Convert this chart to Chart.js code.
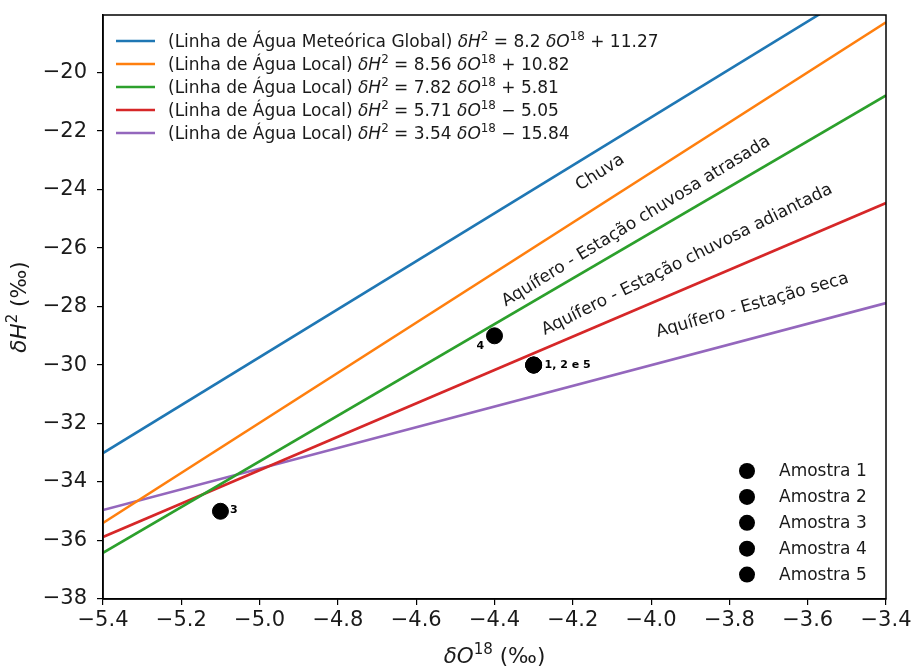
<!DOCTYPE html>
<html>
<head>
<meta charset="utf-8">
<script src="https://cdn.jsdelivr.net/npm/chart.js@4.4.1/dist/chart.umd.min.js"></script>
<style>
  html, body { margin: 0; padding: 0; background: #fff; }
  #wrap { width: 914px; height: 666px; position: relative; }
</style>
</head>
<body>
<div id="wrap"><canvas id="chart"></canvas></div>
<script>
const FONT = "'DejaVu Sans', sans-serif";

// water lines, values at the two ends of the x range
const lineX = [-5.4, -3.4];
const gmwlY = [-33.01, -16.61];
const rainY = [-35.40, -18.28];
const lateY = [-36.42, -20.78];
const earlyY = [-35.88, -24.46];
const dryY = [-34.96, -27.88];

const lineNames = [
  "(Linha de Água Meteórica Global)",
  "(Linha de Água Local)",
  "(Linha de Água Local)",
  "(Linha de Água Local)",
  "(Linha de Água Local)"
];
const slopes = ["8.2", "8.56", "7.82", "5.71", "3.54"];
const intercepts = ["+ 11.27", "+ 10.82", "+ 5.81", "− 5.05", "− 15.84"];
const lineColors = ["#1f77b4", "#ff7f0e", "#2ca02c", "#d62728", "#9467bd"];

// samples
const sampleNames = ["Amostra 1", "Amostra 2", "Amostra 3", "Amostra 4", "Amostra 5"];
const sampleX = [-4.3, -4.3, -5.1, -4.4, -4.3];
const sampleY = [-30, -30, -35, -29, -30];

// ticks
const xTicks = [-5.4, -5.2, -5.0, -4.8, -4.6, -4.4, -4.2, -4.0, -3.8, -3.6, -3.4];
const yTicks = [-38, -36, -34, -32, -30, -28, -26, -24, -22, -20];

// text along the lines (data position, angle in degrees)
const zoneLabels = ["Chuva", "Aquífero - Estação chuvosa atrasada", "Aquífero - Estação chuvosa adiantada", "Aquífero - Estação seca"];
const zoneX = [-4.13, -4.038, -3.908, -3.741];
const zoneY = [-23.42, -25.09, -26.40, -27.96];
const zoneAngle = [-32.3, -31.5, -26.3, -15.9];

// point tags
const tagText = ["1, 2 e 5", "4", "3"];
const tagX = [-4.272, -4.436, -5.066];
const tagY = [-30.0, -29.36, -34.97];

const lineSets = [gmwlY, rainY, lateY, earlyY, dryY].map((ys, i) => ({
  label: lineNames[i],
  data: lineX.map((x, j) => ({ x: x, y: ys[j] })),
  showLine: true,
  borderColor: lineColors[i],
  backgroundColor: lineColors[i],
  borderWidth: 2.6,
  pointRadius: 0
}));

const sampleSets = sampleNames.map((n, i) => ({
  label: n,
  data: [{ x: sampleX[i], y: sampleY[i] }],
  showLine: false,
  pointRadius: 8,
  pointBackgroundColor: "#000",
  pointBorderColor: "#000"
}));

function minus(s){ return String(s).replace("-", "\u2212"); }

function drawRich(ctx, segs, x, y, size){
  let cx = x;
  for(const s of segs){
    const fs = s.sup ? size * 0.7 : size;
    ctx.font = `${s.it ? "italic " : ""}${fs}px ${FONT}`;
    ctx.textBaseline = "alphabetic";
    ctx.fillText(s.t, cx, s.sup ? y - size * 0.42 : y);
    cx += ctx.measureText(s.t).width;
  }
  return cx - x;
}
function richWidth(ctx, segs, size){
  let w = 0;
  for(const s of segs){
    const fs = s.sup ? size * 0.7 : size;
    ctx.font = `${s.it ? "italic " : ""}${fs}px ${FONT}`;
    w += ctx.measureText(s.t).width;
  }
  return w;
}

const extras = {
  id: "extras",
  afterDatasetsDraw(chart){
    const ctx = chart.ctx;
    const xs = chart.scales.x, ys = chart.scales.y;
    const a = chart.chartArea;
    ctx.save();
    ctx.fillStyle = "#1a1a1a";

    // zone labels
    ctx.font = `17px ${FONT}`;
    ctx.textAlign = "center";
    ctx.textBaseline = "middle";
    zoneLabels.forEach((t, i) => {
      ctx.save();
      ctx.translate(xs.getPixelForValue(zoneX[i]), ys.getPixelForValue(zoneY[i]));
      ctx.rotate(zoneAngle[i] * Math.PI / 180);
      ctx.fillText(t, 0, 0);
      ctx.restore();
    });

    // point tags
    ctx.font = `bold 11px ${FONT}`;
    ctx.fillStyle = "#000";
    tagText.forEach((t, i) => {
      ctx.textAlign = i === 0 ? "left" : "center";
      ctx.fillText(t, xs.getPixelForValue(tagX[i]), ys.getPixelForValue(tagY[i]));
    });

    // frame
    ctx.strokeStyle = "#000";
    ctx.lineWidth = 1.5;
    ctx.strokeRect(a.left, a.top, a.right - a.left, a.bottom - a.top);

    // line legend
    ctx.fillStyle = "#1a1a1a";
    ctx.textAlign = "left";
    for(let i = 0; i < 5; i++){
      const yy = 41 + i * 23;
      ctx.strokeStyle = lineColors[i];
      ctx.lineWidth = 2.6;
      ctx.beginPath(); ctx.moveTo(116, yy); ctx.lineTo(155, yy); ctx.stroke();
      drawRich(ctx, [
        { t: lineNames[i] + " " },
        { t: "δH", it: true },
        { t: "2", sup: true },
        { t: " = " + slopes[i] + " " },
        { t: "δO", it: true },
        { t: "18", sup: true },
        { t: " " + intercepts[i] }
      ], 168, yy + 6, 17);
    }

    // sample legend
    ctx.font = `17px ${FONT}`;
    ctx.textBaseline = "middle";
    for(let i = 0; i < 5; i++){
      const yy = 471 + i * 25.9;
      ctx.fillStyle = "#000";
      ctx.beginPath(); ctx.arc(747, yy, 8, 0, Math.PI * 2); ctx.fill();
      ctx.fillStyle = "#1a1a1a";
      ctx.fillText(sampleNames[i], 779, yy + 1);
    }

    // axis titles
    ctx.fillStyle = "#1a1a1a";
    const xt = [{ t: "δO", it: true }, { t: "18", sup: true }, { t: " (‰)" }];
    const wx = richWidth(ctx, xt, 21.5);
    drawRich(ctx, xt, (a.left + a.right) / 2 - wx / 2, 663, 21.5);
    const yt = [{ t: "δH", it: true }, { t: "2", sup: true }, { t: " (‰)" }];
    const wy = richWidth(ctx, yt, 21.5);
    ctx.save();
    ctx.translate(26, (a.top + a.bottom) / 2);
    ctx.rotate(-Math.PI / 2);
    drawRich(ctx, yt, -wy / 2, 0, 21.5);
    ctx.restore();

    ctx.restore();
  }
};

new Chart(document.getElementById("chart"), {
  type: "scatter",
  data: { datasets: [...lineSets, ...sampleSets] },
  options: {
    responsive: true,
    maintainAspectRatio: false,
    animation: false,
    layout: { padding: { top: 15, right: 28, left: 0, bottom: 0 } },
    plugins: { legend: { display: false }, tooltip: { enabled: false } },
    scales: {
      x: {
        type: "linear", min: -5.4, max: -3.4,
        afterBuildTicks: s => { s.ticks = xTicks.map(v => ({ value: v })); },
        afterFit: s => { s.height = 67; s.paddingLeft = 0; s.paddingRight = 0; },
        ticks: { callback: v => minus(v.toFixed(1)), font: { size: 21, family: FONT }, color: "#1a1a1a", padding: 3, maxRotation: 0, autoSkip: false },
        grid: { drawOnChartArea: false, color: "#000", tickLength: 6, lineWidth: 1.2 },
        border: { color: "#000", width: 1.5 }
      },
      y: {
        type: "linear", min: -38, max: -18.03,
        afterBuildTicks: s => { s.ticks = yTicks.map(v => ({ value: v })); },
        afterFit: s => { s.width = 103; s.paddingTop = 0; s.paddingBottom = 0; },
        ticks: { callback: v => minus(v), font: { size: 21, family: FONT }, color: "#1a1a1a", padding: 10, autoSkip: false },
        grid: { drawOnChartArea: false, color: "#000", tickLength: 6, lineWidth: 1.2 },
        border: { color: "#000", width: 1.5 }
      }
    }
  },
  plugins: [extras]
});
</script>
</body>
</html>
